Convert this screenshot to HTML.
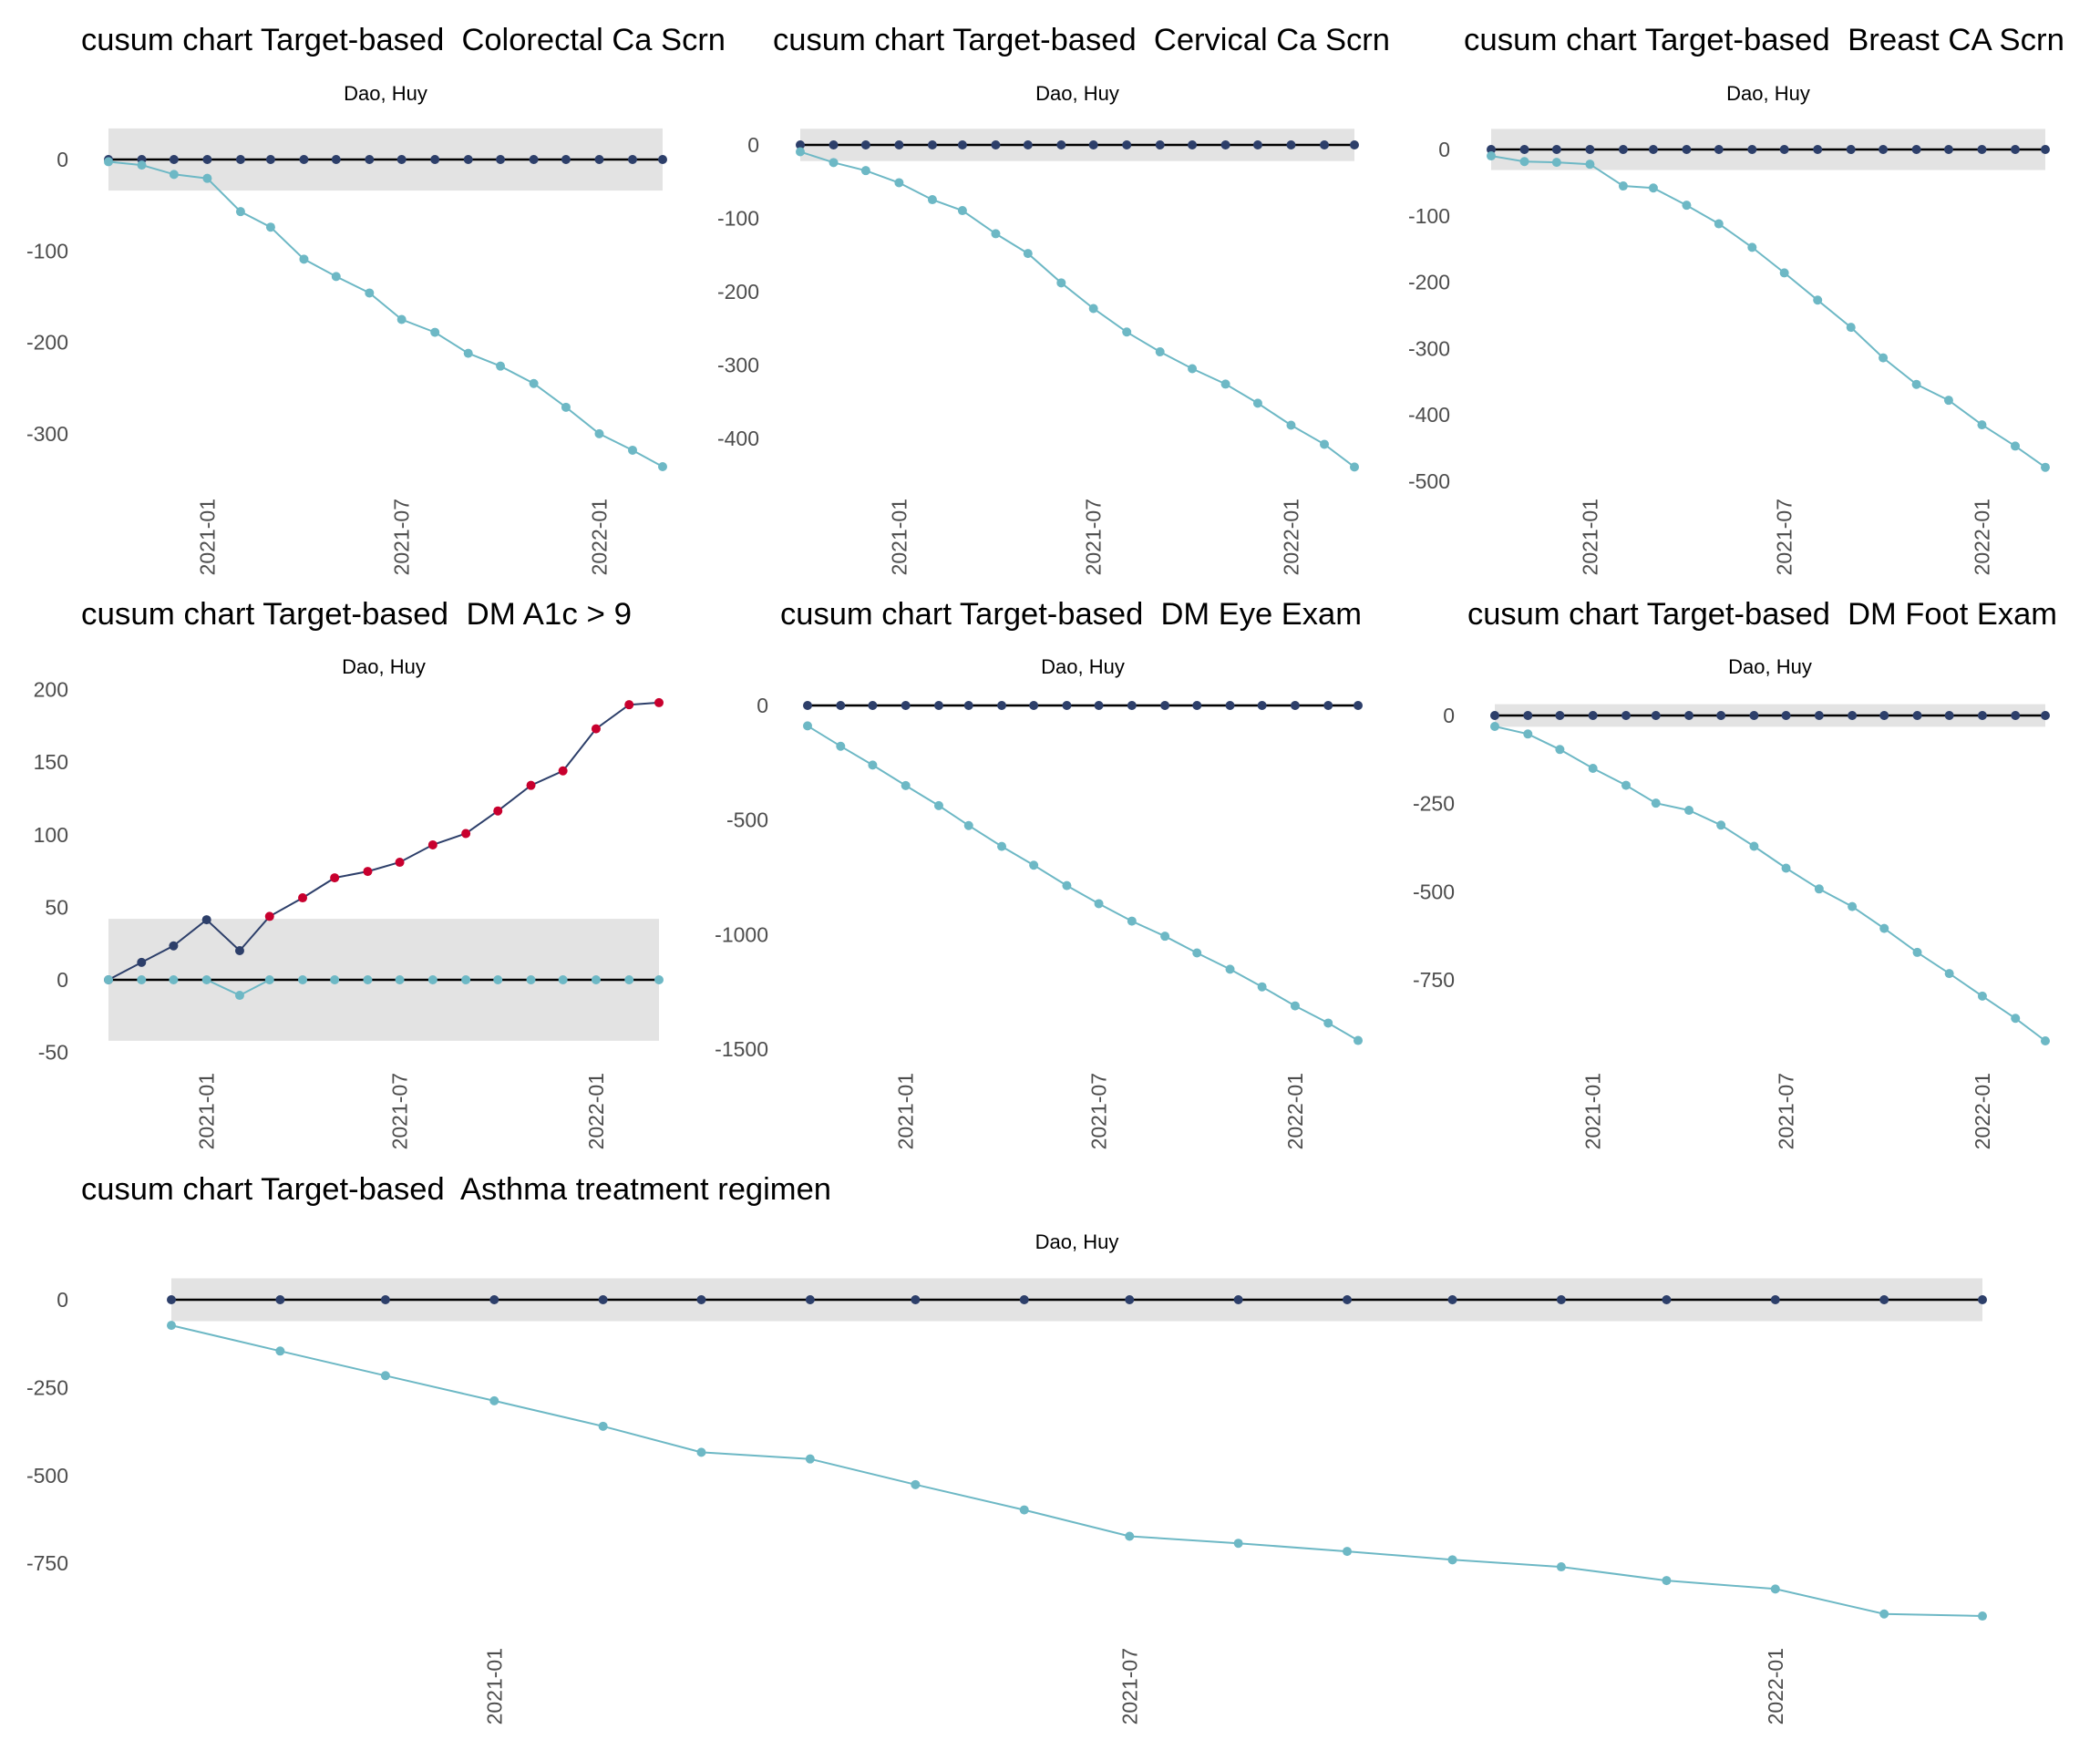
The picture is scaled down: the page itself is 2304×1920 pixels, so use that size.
<!DOCTYPE html>
<html><head><meta charset="utf-8"><title>cusum charts</title>
<style>
html,body{margin:0;padding:0;background:#fff;}
svg{display:block;}
text{font-family:"Liberation Sans",Arial,sans-serif;}
</style></head>
<body>
<svg id="chart" width="2304" height="1920" viewBox="0 0 2304 1920" xmlns="http://www.w3.org/2000/svg"></svg>
<script>
// ---- data ----
const dates = ['2020-10-01','2020-11-01','2020-12-01','2021-01-01','2021-02-01','2021-03-01','2021-04-01','2021-05-01','2021-06-01','2021-07-01','2021-08-01','2021-09-01','2021-10-01','2021-11-01','2021-12-01','2022-01-01','2022-02-01','2022-03-01'];
const xTickDates = ['2021-01-01','2021-07-01','2022-01-01'];
const xTickLabels = ['2021-01','2021-07','2022-01'];
const titles = ['cusum chart Target-based  Colorectal Ca Scrn','cusum chart Target-based  Cervical Ca Scrn','cusum chart Target-based  Breast CA Scrn','cusum chart Target-based  DM A1c > 9','cusum chart Target-based  DM Eye Exam','cusum chart Target-based  DM Foot Exam','cusum chart Target-based  Asthma treatment regimen'];
const zeros = [0,0,0,0,0,0,0,0,0,0,0,0,0,0,0,0,0,0];
const colorectalLower = [-2.4,-6.1,-16.3,-20.6,-57,-74,-109,-128,-146,-175,-189,-212,-226,-245,-271,-300,-318,-336];
const cervicalLower = [-9.3,-24,-35,-51.5,-74.6,-89.5,-121,-148,-188,-223,-255,-282,-305,-326,-352,-382,-408,-439];
const breastLower = [-9.7,-18.2,-19.4,-22.2,-55,-58,-84,-112,-147.5,-186,-227,-268,-314,-354,-378,-415,-447,-479];
const a1cUpper = [0,12,23.4,41.4,20.1,43.7,56.5,70.3,74.7,81,93,100.8,116.4,134,144,173,189.6,191];
const a1cLower = [0,0,0,0,-10.7,0,0,0,0,0,0,0,0,0,0,0,0,0];
const eyeLower = [-89,-178,-260,-349.5,-437,-524,-615,-697,-786,-865,-941,-1007,-1080,-1151,-1228,-1311,-1386,-1462];
const footLower = [-31,-52.5,-96.4,-150,-198,-248.6,-269,-311,-371,-433,-492,-542,-604,-672,-732,-796,-859,-923];
const asthmaLower = [-73,-146,-216,-287.5,-360,-434,-453,-526,-598,-673,-693,-716,-740,-760,-799,-823,-894,-900];
const bands = [34,22,31,42,6,32,61];
const yTicks1 = [0,-100,-200,-300];
const yTicks2 = [0,-100,-200,-300,-400];
const yTicks3 = [0,-100,-200,-300,-400,-500];
const yTicks4 = [200,150,100,50,0,-50];
const yTicks5 = [0,-500,-1000,-1500];
const yTicks6 = [0,-250,-500,-750];
const yTicks7 = [0,-250,-500,-750];
const uppers = [zeros,zeros,zeros,a1cUpper,zeros,zeros,zeros];
const lowers = [colorectalLower,cervicalLower,breastLower,a1cLower,eyeLower,footLower,asthmaLower];
const yTicksAll = [yTicks1,yTicks2,yTicks3,yTicks4,yTicks5,yTicks6,yTicks7];

// ---- layout (pixels, not data) ----
const layout = [
 {x0:119,x1:727,zy:175,ppu:100.3/100,tr:75,tx:89,tw:707,ty:55,sy:110,lt:547},
 {x0:878,x1:1486,zy:159,ppu:80.5/100,tr:833,tx:848,tw:677,ty:55,sy:110,lt:547},
 {x0:1636,x1:2244,zy:164,ppu:72.8/100,tr:1591,tx:1606,tw:659,ty:55,sy:110,lt:547},
 {x0:119,x1:723,zy:1075,ppu:79.6/50,tr:75,tx:89,tw:604,ty:685,sy:739,lt:1177},
 {x0:886,x1:1490,zy:774,ppu:125.7/500,tr:843,tx:856,tw:638,ty:685,sy:739,lt:1177},
 {x0:1640,x1:2244,zy:785,ppu:96.7/250,tr:1596,tx:1610,tw:647,ty:685,sy:739,lt:1177},
 {x0:188,x1:2175,zy:1426,ppu:96.4/250,tr:75,tx:89,tw:823,ty:1316,sy:1370,lt:1808}
];
const DARK='#2d3f6a', CYAN='#6db8c5', RED='#c8002e';
const NS='http://www.w3.org/2000/svg';
const svg=document.getElementById('chart');
function mk(tag,attrs,parent){const e=document.createElementNS(NS,tag);for(const k in attrs)e.setAttribute(k,attrs[k]);(parent||svg).appendChild(e);return e;}
const t0=Date.parse(dates[0]), t1=Date.parse(dates[dates.length-1]);

layout.forEach((L,p)=>{
  const g=mk('g',{});
  
  
  const xs=d=>L.x0+(Date.parse(d)-t0)/(t1-t0)*(L.x1-L.x0);
  const ys=v=>L.zy-v*L.ppu;
  const band=bands[p];
  const title=mk('text',{x:L.tx,y:L.ty,'font-size':34,fill:'#000',textLength:L.tw,lengthAdjust:'spacingAndGlyphs',style:'white-space:pre'},g);
  title.textContent=titles[p];
  
  
  const sub=mk('text',{x:(L.x0+L.x1)/2,y:L.sy,'font-size':22,fill:'#000','text-anchor':'middle'},g);
  sub.textContent='Dao, Huy';
  
  
  const rect=mk('rect',{x:L.x0,y:ys(band),width:L.x1-L.x0,height:ys(-band)-ys(band),fill:'#e3e3e3'},g);
  
  
  yTicksAll[p].forEach(v=>{
    const t=mk('text',{x:L.tr,y:ys(v)+8,'font-size':23,fill:'#4d4d4d','text-anchor':'end'},g);
    t.textContent=String(v);
    
    
  });
  xTickDates.forEach((d,i)=>{
    const x=xs(d);
    const t=mk('text',{x:0,y:0,'font-size':23,fill:'#4d4d4d','text-anchor':'end',transform:'translate('+(x+8)+','+L.lt+') rotate(-90)'},g);
    t.textContent=xTickLabels[i];
    
    
  });
  const series=[[uppers[p],DARK,'upper-cusum'],[lowers[p],CYAN,'lower-cusum']];
  series.forEach(([vals,col,nm])=>{
    const pts=vals.map((v,i)=>xs(dates[i]).toFixed(1)+','+ys(v).toFixed(1)).join(' ');
    const pl=mk('polyline',{points:pts,fill:'none',stroke:col,'stroke-width':2},g);
    
    
  });
  const zl=mk('line',{x1:L.x0,x2:L.x1,y1:ys(0),y2:ys(0),stroke:'#000','stroke-width':2.5},g);
  
  
  series.forEach(([vals,col,nm])=>{
    vals.forEach((v,i)=>{
      let c=col;
      if(Math.abs(v)>band) c = (col===DARK? RED : col);
      const dot=mk('circle',{cx:xs(dates[i]),cy:ys(v),r:5,fill:c},g);
      
      
    });
  });
});
</script>
</body></html>
